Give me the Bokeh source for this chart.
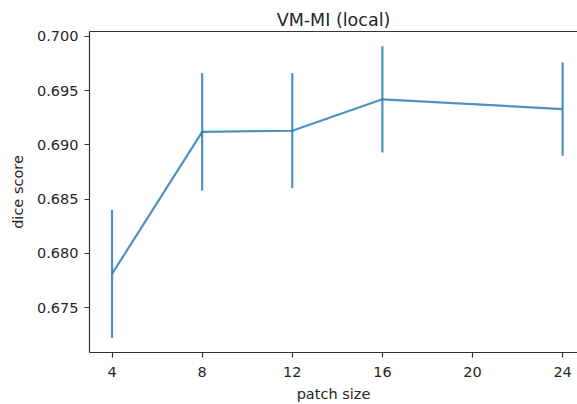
from bokeh.plotting import figure
from bokeh.models import LinearAxis, FixedTicker, Range1d, ColumnDataSource, NumeralTickFormatter, Title
from bokeh.embed import file_html
from bokeh.resources import INLINE

# data
patch_sizes = [4, 8, 12, 16, 24]
dice_mean = [0.6781, 0.6912, 0.6913, 0.6942, 0.6933]
dice_err = [0.0059, 0.0054, 0.0053, 0.0049, 0.0043]
x_ticks = [4, 8, 12, 16, 20, 24]
y_ticks = [0.675, 0.680, 0.685, 0.690, 0.695, 0.700]

lower = [m - e for m, e in zip(dice_mean, dice_err)]
upper = [m + e for m, e in zip(dice_mean, dice_err)]
src = ColumnDataSource(dict(x=patch_sizes, y=dice_mean, lo=lower, hi=upper))

FONT = "DejaVu Sans"
TXT = "#262626"
color = "#1f77b4"

p = figure(width=577, height=404, output_backend="svg", toolbar_location=None,
           x_range=Range1d(3.0, 24.66), y_range=Range1d(0.67086, 0.70045),
           min_border_left=89, min_border_right=0, min_border_bottom=52, min_border_top=31,
           title=None)
p.outline_line_color = None
p.xgrid.visible = False
p.ygrid.visible = False
p.background_fill_color = "white"
p.border_fill_color = "white"

xax = p.below[0]
yax = p.left[0]

for ax in (xax, yax):
    ax.axis_line_color = "#333333"
    ax.axis_line_width = 1.2
    ax.major_tick_line_color = "#333333"
    ax.major_tick_line_width = 1.2
    ax.major_tick_out = 5
    ax.major_tick_in = 0
    ax.minor_tick_out = 0
    ax.minor_tick_in = 0
    ax.major_label_text_font = FONT
    ax.major_label_text_font_size = "14.5px"
    ax.major_label_text_color = TXT
    ax.axis_label_text_font = FONT
    ax.axis_label_text_font_size = "14.5px"
    ax.axis_label_text_font_style = "normal"
    ax.axis_label_text_color = TXT

xax.ticker = FixedTicker(ticks=x_ticks)
yax.ticker = FixedTicker(ticks=y_ticks)
yax.formatter = NumeralTickFormatter(format="0.000")
xax.axis_label = "patch size"
yax.axis_label = "dice score"
xax.major_label_standoff = 9
yax.major_label_standoff = 6
xax.axis_label_standoff = 6
yax.axis_label_standoff = 8

# top spine
top_axis = LinearAxis(ticker=FixedTicker(ticks=x_ticks), major_tick_out=0, major_tick_in=0,
                      minor_tick_out=0, minor_tick_in=0,
                      major_label_text_font_size="1px", major_label_text_alpha=0,
                      axis_line_color="#333333", axis_line_width=1.2,
                      major_tick_line_color=None, major_label_standoff=0)
p.add_layout(top_axis, "above")

p.add_layout(Title(text="VM-MI (local)", align="center", text_font=FONT,
                   text_font_size="17.5px", text_font_style="normal",
                   text_color=TXT, standoff=4), "above")

p.segment(x0="x", y0="lo", x1="x", y1="hi", source=src, line_color=color,
          line_alpha=0.8, line_width=2.2)
p.line(x="x", y="y", source=src, line_color=color, line_alpha=0.8, line_width=2.2)

open("out.html", "w").write(file_html(p, INLINE))
